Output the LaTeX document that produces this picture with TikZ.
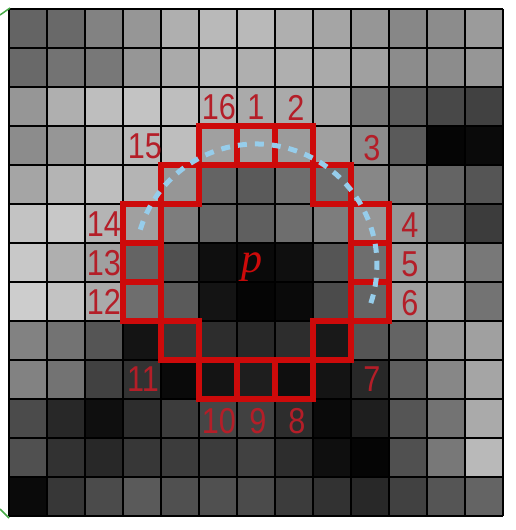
\documentclass[tikz,border=0pt]{standalone}
\usepackage{fontspec}
\setmainfont{Liberation Sans}
\newfontfamily\pfont{Liberation Serif}
\usetikzlibrary{positioning}
\definecolor{ringRed}{RGB}{205,10,10}
\definecolor{lblRed}{RGB}{180,30,40}
\definecolor{arcBlue}{RGB}{150,205,235}
\definecolor{edgeGreen}{RGB}{70,170,70}
\newcommand{\sqz}[1]{\scalebox{0.85}[1]{#1}}

\begin{document}
\begin{tikzpicture}[x=1pt, y=-1pt,
      gridline/.style={draw=black, line width=1.2pt},
      ring/.style={draw=ringRed, line width=6pt},
      dotarc/.style={draw=arcBlue, line width=5pt, dash pattern=on 9pt off 8pt},
      lbl/.style={text=lblRed, inner sep=0pt, font=\fontsize{36}{36}\selectfont}]
    \useasboundingbox (0,0) rectangle (516,530);
    \foreach \row [count=\r from 0] in {
        {100,105,130,150,175,185,185,175,165,150,135,140,155},
        {105,115,120,150,170,180,175,175,170,160,140,140,150},
        {150,175,190,195,190,180,170,170,165,118,90,72,65},
        {140,150,175,185,190,160,160,155,160,140,90,5,10},
        {165,180,190,180,150,100,90,110,110,135,120,100,85},
        {195,200,180,160,125,100,95,110,125,150,150,95,60},
        {200,175,160,100,80,15,10,15,85,110,155,150,120},
        {205,195,170,110,90,20,5,10,75,100,160,155,115},
        {130,115,85,20,55,45,40,45,25,85,100,150,160},
        {130,115,65,50,10,20,30,15,20,40,95,135,165},
        {75,40,15,45,60,70,65,45,10,30,85,115,170},
        {80,50,40,55,60,60,65,45,15,5,80,120,185},
        {10,55,75,90,80,80,75,60,50,40,65,85,100}} {
      \foreach \g [count=\c from 0] in \row {
        \definecolor{pix}{RGB}{\g,\g,\g}
        \fill[pix] ({9+38*\c},{9+39*\r}) rectangle ++(38,39);
      }
    }
    \foreach \i in {0,...,13} {
      \draw[gridline] ({9+38*\i},9) -- ({9+38*\i},516);
      \draw[gridline] (9,{9+39*\i}) -- (503,{9+39*\i});
    }
    \foreach \c/\r in {6/3,7/3,8/4,9/5,9/6,9/7,8/8,7/9,6/9,5/9,4/8,3/7,3/6,3/5,4/4,5/3}
      \draw[ring] ({9+38*\c},{9+39*\r}) rectangle ++(38,39);

    \node[lbl] (n16) at (219,107) {\sqz{16}};
    \node[lbl] (n1)  at (256,107) {\sqz{1}};
    \node[lbl] (n2)  at (296,108) {\sqz{2}};
    \node[lbl] (n3)  at (372,148) {\sqz{3}};
    \node[lbl] (n4)  at (410,225) {\sqz{4}};
    \node[lbl] (n5)  at (410,264) {\sqz{5}};
    \node[lbl] (n6)  at (410,303) {\sqz{6}};
    \node[lbl] (n7)  at (372,379) {\sqz{7}};
    \node[lbl] (n8)  at (297,421) {\sqz{8}};
    \node[lbl] (n9)  at (258,421) {\sqz{9}};
    \node[lbl] (n10) at (219,421) {\sqz{10}};
    \node[lbl] (n11) at (143,379) {\sqz{11}};
    \node[lbl] (n12) at (104,302) {\sqz{12}};
    \node[lbl] (n13) at (104,263) {\sqz{13}};
    \node[lbl] (n14) at (104,224) {\sqz{14}};
    \node[lbl] (n15) at (145,146) {\sqz{15}};
    \node[lbl, text=ringRed, font=\pfont\itshape\fontsize{42}{42}\selectfont] (p) at (252,267) {p};

    \coordinate (o) at (256,265);
    \draw[dotarc] (o) ++(197:121) arc[start angle=197, end angle=379, radius=121];

    \draw[edgeGreen, line width=1.5pt] (0,15) -- (10,8);
    \draw[edgeGreen, line width=1.5pt] (0,509) -- (9,518);
  \end{tikzpicture}
\end{document}
